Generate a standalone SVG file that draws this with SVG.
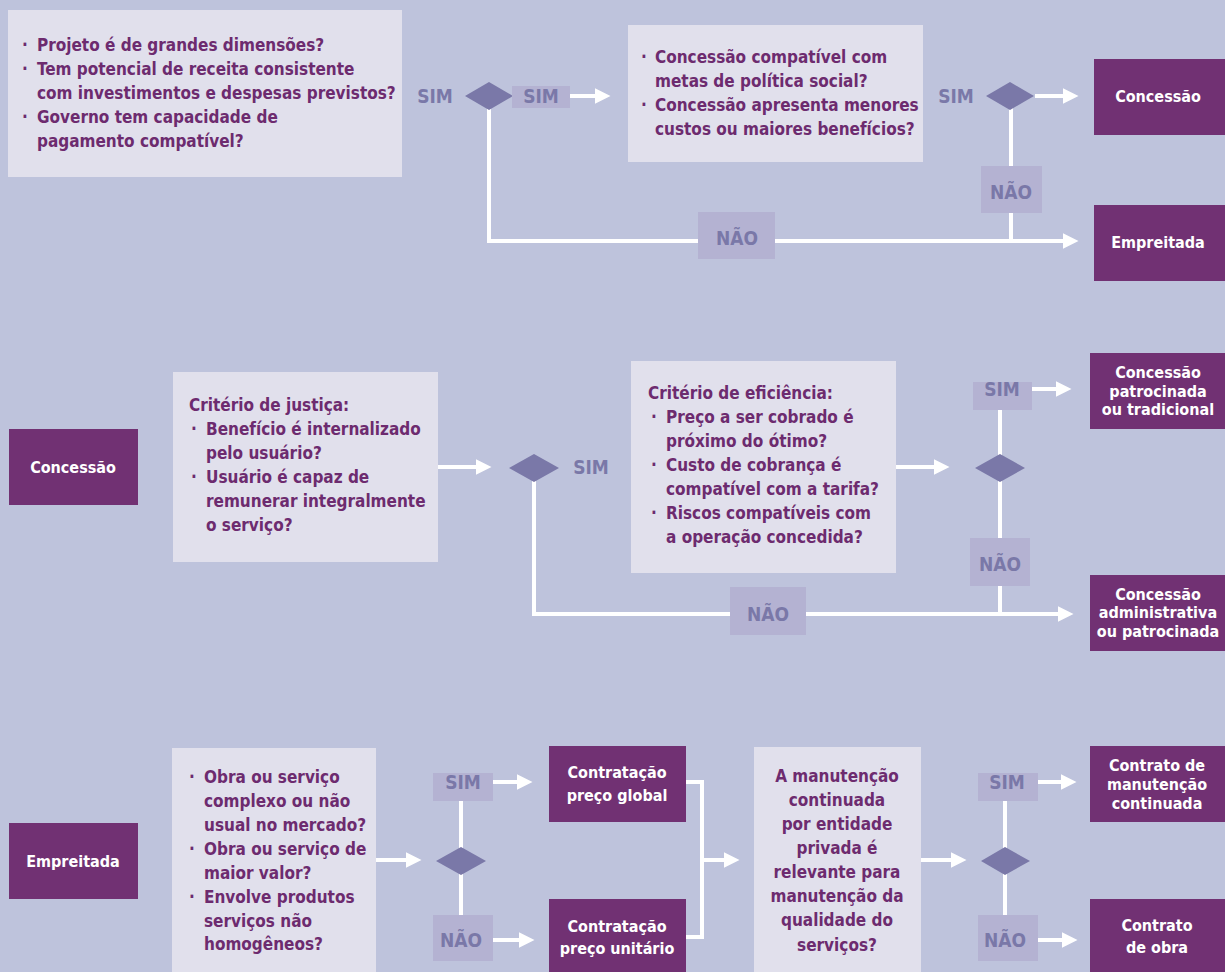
<svg xmlns="http://www.w3.org/2000/svg" width="1225" height="972" viewBox="0 0 1225 972">
<style>
.bg{fill:#bec3dc}
.q{fill:#e1e0ec}
.p{fill:#713173}
.d{fill:#7a78a8}
.lb{fill:#b4b2d2}
text{font-family:"DejaVu Sans Condensed","DejaVu Sans",sans-serif;font-stretch:condensed;font-weight:bold}
.t{font-size:17px;fill:#6d2b6f}
.w{font-size:16px;fill:#ffffff;text-anchor:middle}
.l{font-size:19px;fill:#7a78a8;text-anchor:middle}
.c{fill:none;stroke:#ffffff;stroke-width:4}
</style>
<defs>
<marker id="ah" markerUnits="userSpaceOnUse" markerWidth="17" markerHeight="17" refX="0.5" refY="8" orient="auto">
<path d="M0,0 L16,8 L0,16 Z" fill="#ffffff"/>
</marker>
</defs>
<rect class="bg" x="0" y="0" width="1225" height="972"/>

<g id="connectors">
<path class="c" d="M570,96 H595" marker-end="url(#ah)"/>
<path class="c" d="M1035,96 H1063" marker-end="url(#ah)"/>
<path class="c" d="M489,105 V241 H1063" marker-end="url(#ah)"/>
<path class="c" d="M1011,105 V241"/>
<path class="c" d="M438,467 H476" marker-end="url(#ah)"/>
<path class="c" d="M534,478 V614 H1058" marker-end="url(#ah)"/>
<path class="c" d="M896,467 H934" marker-end="url(#ah)"/>
<path class="c" d="M1000,400 V614"/>
<path class="c" d="M1032,389 H1056" marker-end="url(#ah)"/>
<path class="c" d="M376,860 H406" marker-end="url(#ah)"/>
<path class="c" d="M461,790 V930"/>
<path class="c" d="M493,782 H517" marker-end="url(#ah)"/>
<path class="c" d="M493,940 H519" marker-end="url(#ah)"/>
<path class="c" d="M686,782 H702 V937 H686"/>
<path class="c" d="M702,860 H724" marker-end="url(#ah)"/>
<path class="c" d="M921,860 H951" marker-end="url(#ah)"/>
<path class="c" d="M1005,790 V930"/>
<path class="c" d="M1038,782 H1061" marker-end="url(#ah)"/>
<path class="c" d="M1038,940 H1062" marker-end="url(#ah)"/>
</g>

<g id="q1">
<rect class="q" x="8" y="10" width="394" height="167"/>
<text class="t"><tspan x="22" y="51">·</tspan><tspan x="37" y="51">Projeto é de grandes dimensões?</tspan></text>
<text class="t"><tspan x="22" y="75">·</tspan><tspan x="37" y="75">Tem potencial de receita consistente</tspan></text>
<text class="t" x="37" y="99">com investimentos e despesas previstos?</text>
<text class="t"><tspan x="22" y="123">·</tspan><tspan x="37" y="123">Governo tem capacidade de</tspan></text>
<text class="t" x="37" y="147">pagamento compatível?</text>
</g>
<g id="lbl-sim1"><text class="l" x="435" y="103">SIM</text></g>
<g id="dec1"><path class="d" d="M465,96 L489,82 L513,96 L489,110 Z"/></g>
<g id="lbl-sim2"><rect class="lb" x="512" y="86" width="58" height="22"/><text class="l" x="541" y="103">SIM</text></g>

<g id="q2">
<rect class="q" x="628" y="25" width="295" height="137"/>
<text class="t"><tspan x="641" y="63">·</tspan><tspan x="655" y="63">Concessão compatível com</tspan></text>
<text class="t" x="655" y="87">metas de política social?</text>
<text class="t"><tspan x="641" y="111">·</tspan><tspan x="655" y="111">Concessão apresenta menores</tspan></text>
<text class="t" x="655" y="135">custos ou maiores benefícios?</text>
</g>
<g id="lbl-sim3"><text class="l" x="956" y="103">SIM</text></g>
<g id="dec2"><path class="d" d="M986,96 L1010,82 L1034,96 L1010,110 Z"/></g>
<g id="lbl-nao1"><rect class="lb" x="981" y="166" width="61" height="47"/><text class="l" x="1011" y="199">NÃO</text></g>
<g id="lbl-nao2"><rect class="lb" x="698" y="212" width="77" height="47"/><text class="l" x="737" y="245">NÃO</text></g>
<g id="r-concessao1"><rect class="p" x="1094" y="59" width="131" height="76"/><text class="w" x="1158" y="102">Concessão</text></g>
<g id="r-empreitada1"><rect class="p" x="1094" y="205" width="131" height="76"/><text class="w" x="1158" y="248">Empreitada</text></g>

<g id="s-concessao"><rect class="p" x="9" y="429" width="129" height="76"/><text class="w" x="73" y="473">Concessão</text></g>
<g id="q3">
<rect class="q" x="173" y="372" width="265" height="190"/>
<text class="t" x="189" y="411">Critério de justiça:</text>
<text class="t"><tspan x="191" y="435">·</tspan><tspan x="206" y="435">Benefício é internalizado</tspan></text>
<text class="t" x="206" y="459">pelo usuário?</text>
<text class="t"><tspan x="191" y="483">·</tspan><tspan x="206" y="483">Usuário é capaz de</tspan></text>
<text class="t" x="206" y="507">remunerar integralmente</text>
<text class="t" x="206" y="531">o serviço?</text>
</g>
<g id="dec3"><path class="d" d="M509,468 L534,454 L559,468 L534,482 Z"/></g>
<g id="lbl-sim4"><text class="l" x="591" y="474">SIM</text></g>
<g id="q4">
<rect class="q" x="631" y="361" width="265" height="212"/>
<text class="t" x="648" y="399">Critério de eficiência:</text>
<text class="t"><tspan x="651" y="423">·</tspan><tspan x="666" y="423">Preço a ser cobrado é</tspan></text>
<text class="t" x="666" y="447">próximo do ótimo?</text>
<text class="t"><tspan x="651" y="471">·</tspan><tspan x="666" y="471">Custo de cobrança é</tspan></text>
<text class="t" x="666" y="495">compatível com a tarifa?</text>
<text class="t"><tspan x="651" y="519">·</tspan><tspan x="666" y="519">Riscos compatíveis com</tspan></text>
<text class="t" x="666" y="543">a operação concedida?</text>
</g>
<g id="dec4"><path class="d" d="M975,468 L1000,454 L1025,468 L1000,482 Z"/></g>
<g id="lbl-sim5"><rect class="lb" x="973" y="382" width="59" height="28"/><text class="l" x="1002" y="396">SIM</text></g>
<g id="lbl-nao3"><rect class="lb" x="970" y="538" width="60" height="48"/><text class="l" x="1000" y="571">NÃO</text></g>
<g id="lbl-nao4"><rect class="lb" x="730" y="587" width="76" height="48"/><text class="l" x="768" y="621">NÃO</text></g>
<g id="r-patrocinada-trad"><rect class="p" x="1090" y="353" width="135" height="76"/>
<text class="w" x="1158" y="378">Concessão</text><text class="w" x="1158" y="397">patrocinada</text><text class="w" x="1158" y="415">ou tradicional</text></g>
<g id="r-administrativa"><rect class="p" x="1090" y="575" width="135" height="76"/>
<text class="w" x="1158" y="600">Concessão</text><text class="w" x="1158" y="618">administrativa</text><text class="w" x="1158" y="637">ou patrocinada</text></g>

<g id="s-empreitada"><rect class="p" x="9" y="823" width="129" height="76"/><text class="w" x="73" y="867">Empreitada</text></g>
<g id="q5">
<rect class="q" x="172" y="748" width="204" height="224"/>
<text class="t"><tspan x="189" y="783">·</tspan><tspan x="204" y="783">Obra ou serviço</tspan></text>
<text class="t" x="204" y="807">complexo ou não</text>
<text class="t" x="204" y="831">usual no mercado?</text>
<text class="t"><tspan x="189" y="855">·</tspan><tspan x="204" y="855">Obra ou serviço de</tspan></text>
<text class="t" x="204" y="879">maior valor?</text>
<text class="t"><tspan x="189" y="903">·</tspan><tspan x="204" y="903">Envolve produtos</tspan></text>
<text class="t" x="204" y="927">serviços não</text>
<text class="t" x="204" y="950">homogêneos?</text>
</g>
<g id="dec5"><path class="d" d="M436,861 L461,847 L486,861 L461,875 Z"/></g>
<g id="lbl-sim6"><rect class="lb" x="433" y="773" width="60" height="28"/><text class="l" x="463" y="789">SIM</text></g>
<g id="lbl-nao5"><rect class="lb" x="433" y="915" width="60" height="46"/><text class="l" x="461" y="947">NÃO</text></g>
<g id="r-global"><rect class="p" x="549" y="746" width="137" height="76"/>
<text class="w" x="617" y="778">Contratação</text><text class="w" x="617" y="801">preço global</text></g>
<g id="r-unitario"><rect class="p" x="549" y="899" width="137" height="73"/>
<text class="w" x="617" y="932">Contratação</text><text class="w" x="617" y="954">preço unitário</text></g>
<g id="q6">
<rect class="q" x="754" y="747" width="167" height="225"/>
<text class="t" text-anchor="middle" x="837" y="782">A manutenção</text>
<text class="t" text-anchor="middle" x="837" y="806">continuada</text>
<text class="t" text-anchor="middle" x="837" y="830">por entidade</text>
<text class="t" text-anchor="middle" x="837" y="854">privada é</text>
<text class="t" text-anchor="middle" x="837" y="878">relevante para</text>
<text class="t" text-anchor="middle" x="837" y="902">manutenção da</text>
<text class="t" text-anchor="middle" x="837" y="926">qualidade do</text>
<text class="t" text-anchor="middle" x="837" y="951">serviços?</text>
</g>
<g id="dec6"><path class="d" d="M981,861 L1005,847 L1030,861 L1005,875 Z"/></g>
<g id="lbl-sim7"><rect class="lb" x="978" y="773" width="60" height="28"/><text class="l" x="1007" y="789">SIM</text></g>
<g id="lbl-nao6"><rect class="lb" x="978" y="915" width="60" height="46"/><text class="l" x="1005" y="947">NÃO</text></g>
<g id="r-manutencao"><rect class="p" x="1090" y="746" width="135" height="76"/>
<text class="w" x="1157" y="771">Contrato de</text><text class="w" x="1157" y="790">manutenção</text><text class="w" x="1157" y="809">continuada</text></g>
<g id="r-obra"><rect class="p" x="1090" y="899" width="135" height="73"/>
<text class="w" x="1157" y="931">Contrato</text><text class="w" x="1157" y="953">de obra</text></g>
</svg>
